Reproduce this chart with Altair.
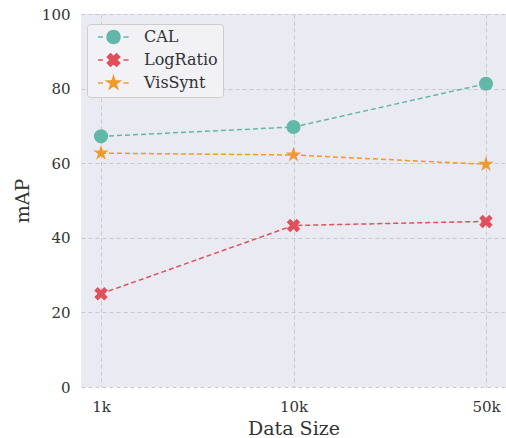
import altair as alt
import pandas as pd

sizes = ["1k", "10k", "50k"]
series_names = ["CAL", "LogRatio", "VisSynt"]
cal = [67.2, 69.7, 81.3]
logratio = [25.0, 43.3, 44.4]
vissynt = [62.7, 62.2, 59.7]
colors = ["#62b8a8", "#e0505a", "#f09a2e"]

rows = []
for name, vals in zip(series_names, [cal, logratio, vissynt]):
    for s, v in zip(sizes, vals):
        rows.append({"size": s, "series": name, "mAP": v})
df = pd.DataFrame(rows)

# marker shapes (unit coordinates)
X_PTS = [(0.46, -0.955), (0.955, -0.46), (0.495, 0), (0.955, 0.46), (0.46, 0.955), (0, 0.495),
         (-0.46, 0.955), (-0.955, 0.46), (-0.495, 0), (-0.955, -0.46), (-0.46, -0.955), (0, -0.495)]
STAR_PTS = [(0, -1), (0.2245, -0.309), (0.951, -0.309), (0.363, 0.118), (0.588, 0.809), (0, 0.382),
            (-0.588, 0.809), (-0.363, 0.118), (-0.951, -0.309), (-0.2245, -0.309)]


def poly(pts, dx=0.0, sc=1.0):
    return "M" + " L".join(f"{x*sc+dx:.3f},{y*sc:.3f}" for x, y in pts) + " Z"


def circle(dx=0.0, r=1.0):
    return f"M{dx-r:.3f},0 A{r},{r} 0 1,1 {dx+r:.3f},0 A{r},{r} 0 1,1 {dx-r:.3f},0 Z"


X_PATH = poly(X_PTS)
STAR_PATH = poly(STAR_PTS, sc=1.15)

DX = 2.08
DASHES = " M-0.3,0 L0.45,0 M3.6,0 L4.4,0"
legend_shapes = [circle(DX) + DASHES, poly(X_PTS, DX) + DASHES, poly(STAR_PTS, DX, 1.05) + DASHES]

x_enc = alt.X("size:N", sort=sizes, scale=alt.Scale(type="point", padding=0.104),
              axis=alt.Axis(title="Data Size", labelAngle=0, grid=True, ticks=False, domain=False,
                            labelPadding=12, titlePadding=5))
y_enc = alt.Y("mAP:Q", scale=alt.Scale(domain=[0, 100], nice=False, zero=True),
              axis=alt.Axis(title="mAP", values=[0, 20, 40, 60, 80, 100], grid=True, ticks=False,
                            domain=False, labelPadding=11, titlePadding=9))

base = alt.Chart(df)

layers = []
for name, col in zip(series_names, colors):
    layers.append(
        base.transform_filter(alt.datum.series == name)
        .mark_line(strokeDash=[5, 3], strokeWidth=1.5, color=col)
        .encode(x=x_enc, y=y_enc)
    )
for name, col, shp in zip(series_names, colors, ["circle", X_PATH, STAR_PATH]):
    layers.append(
        base.transform_filter(alt.datum.series == name)
        .mark_point(filled=True, shape=shp, size=200, opacity=1, color=col)
        .encode(x=x_enc, y=y_enc)
    )

legend_layer = base.mark_point(filled=True, size=169, opacity=0).encode(
    x=x_enc, y=y_enc,
    color=alt.Color("series:N", scale=alt.Scale(domain=series_names, range=colors),
                    legend=alt.Legend(title=None, orient="none", legendX=6, legendY=10)),
    stroke=alt.Stroke("series:N", scale=alt.Scale(domain=series_names, range=colors)),
    shape=alt.Shape("series:N", scale=alt.Scale(domain=series_names, range=legend_shapes)),
)
layers.append(legend_layer)

chart = alt.layer(*layers).properties(
    width=425, height=373,
    autosize=alt.AutoSizeParams(type="none"),
    padding={"left": 81, "top": 14, "right": 0, "bottom": 51},
).configure_view(
    fill="#eaeaf2", stroke=None
).configure_axis(
    labelFont="DejaVu Serif", titleFont="DejaVu Serif", labelFontSize=15, titleFontSize=19,
    labelColor="#333333", titleColor="#333333", titleFontWeight="normal",
    gridColor="#c8c8d0", gridDash=[4, 3], gridWidth=1,
).configure_legend(
    labelFont="DejaVu Serif", labelFontSize=16, labelColor="#333333",
    symbolOpacity=1, symbolSize=169, symbolStrokeWidth=1.5,
    padding=5, rowPadding=3, labelOffset=36, fillColor="#f1f1f6", strokeColor="#cccccc",
    cornerRadius=3, labelLimit=300,
)

chart.save("out.html", embed_options={"renderer": "svg", "actions": False})
